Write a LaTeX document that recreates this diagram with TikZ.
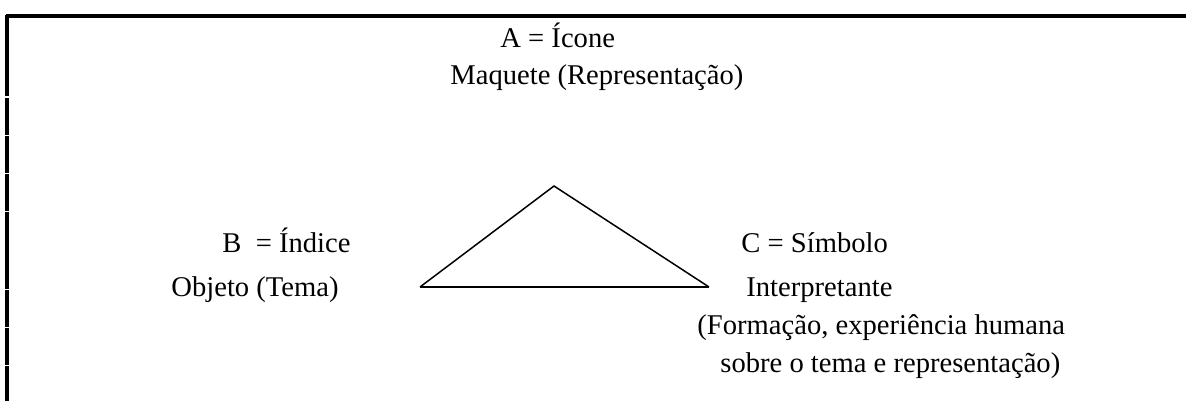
\documentclass[tikz,border=0pt]{standalone}
\usepackage{fontspec}
\setmainfont{Liberation Serif}
\begin{document}
\begin{tikzpicture}[x=0.5pt, y=-0.5pt, every node/.style={inner sep=0pt, anchor=base west, font=\fontsize{14.3}{17}\selectfont}]
  \useasboundingbox (0,0) rectangle (1186,401);
  % Frame
  \draw[line width=1.6pt] (6,16) -- (1186,16);
  \draw[line width=1.6pt] (7,15) -- (7,401);
  \foreach \y in {97,135,173,211,289,327,365}
    \draw[white, line width=0.5pt] (3,\y) -- (11,\y);
  % Top corner
  \node (icone) at (500,48) {A = Ícone};
  \node (maquete) at (450,84) {Maquete (Representação)};
  % Left corner
  \node (indice) at (222,252) {B~ = Índice};
  \node (objeto) at (171,296) {Objeto (Tema)};
  % Right corner
  \node (simbolo) at (741,252) {C = Símbolo};
  \node (interp) at (746,296) {Interpretante};
  \node (formacao) at (697,334) {(Formação, experiência humana};
  \node (sobre) at (720,372) {sobre o tema e representação)};
  % Triangle
  \coordinate (top) at (554,186);
  \coordinate (left) at (420,287);
  \coordinate (right) at (709,287);
  \draw[line width=0.75pt] (left) -- (top) -- (right);
  \draw[line width=0.75pt] (left) -- (right);
\end{tikzpicture}
\end{document}
